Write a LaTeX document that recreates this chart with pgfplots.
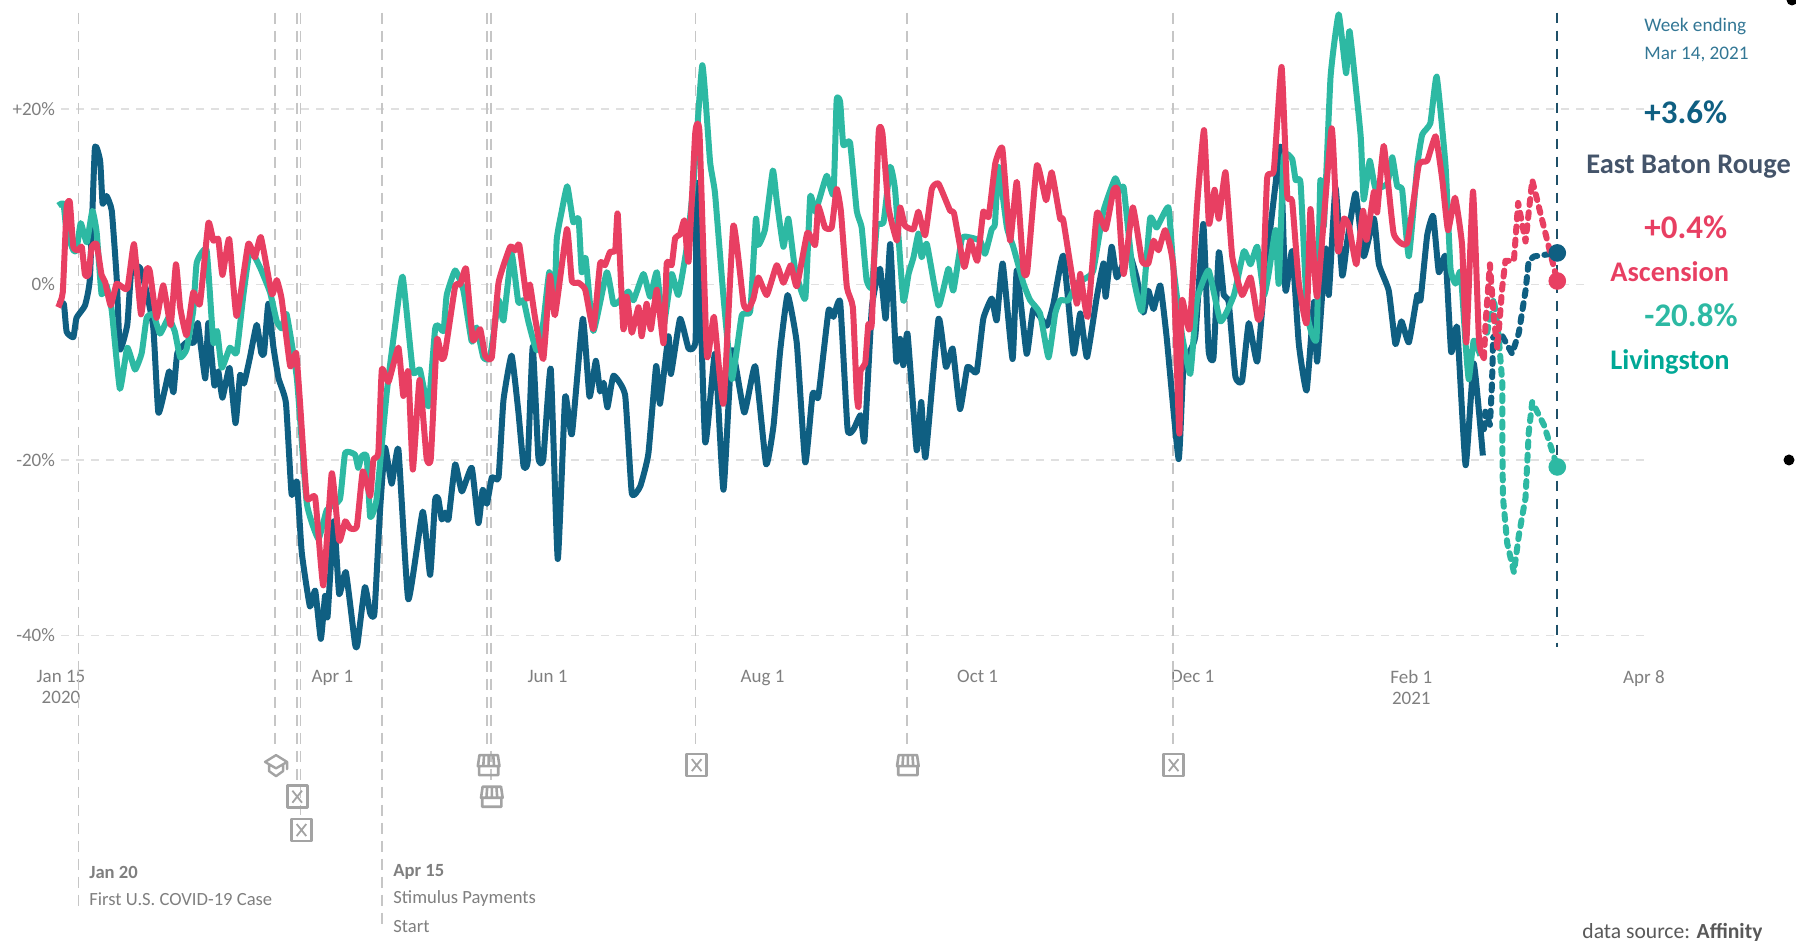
\documentclass[border=0pt]{standalone}
\usepackage{pgfplots}
\pgfplotsset{compat=1.18}
\usepackage{fontspec}
\setmainfont{Carlito}
\definecolor{navy}{HTML}{0F5F82}
\definecolor{teal2}{HTML}{2DB9A3}
\definecolor{red2}{HTML}{E83F62}
\definecolor{evgray}{HTML}{C6C6C6}
\definecolor{txtgray}{HTML}{7F7F7F}
\definecolor{icongray}{HTML}{A3A3A3}
\pgfdeclareplotmark{xbox}{%
  \pgfsetroundjoin\pgfsetlinewidth{1.3pt}%
  \pgfpathrectangle{\pgfpoint{-5pt}{-5.5pt}}{\pgfpoint{10pt}{11pt}}\pgfusepathqstroke
  \pgfsetlinewidth{.9pt}%
  \pgfpathmoveto{\pgfpoint{-2.4pt}{-3pt}}\pgfpathlineto{\pgfpoint{2.4pt}{3pt}}%
  \pgfpathmoveto{\pgfpoint{-2.4pt}{3pt}}\pgfpathlineto{\pgfpoint{2.4pt}{-3pt}}\pgfusepathqstroke}
\pgfdeclareplotmark{shop}{%
  \pgfsetroundjoin\pgfsetroundcap\pgfsetlinewidth{1.3pt}%
  \pgfpathmoveto{\pgfpoint{-4.8pt}{-0.5pt}}\pgfpathlineto{\pgfpoint{-4.8pt}{-5pt}}\pgfpathlineto{\pgfpoint{4.8pt}{-5pt}}\pgfpathlineto{\pgfpoint{4.8pt}{-0.5pt}}%
  \pgfpathmoveto{\pgfpoint{-5.4pt}{-0.5pt}}\pgfpathlineto{\pgfpoint{5.4pt}{-0.5pt}}\pgfpathlineto{\pgfpoint{4.6pt}{5pt}}\pgfpathlineto{\pgfpoint{-4.6pt}{5pt}}\pgfpathclose
  \pgfpathmoveto{\pgfpoint{-2.7pt}{-0.5pt}}\pgfpathlineto{\pgfpoint{-2.3pt}{5pt}}%
  \pgfpathmoveto{\pgfpoint{0pt}{-0.5pt}}\pgfpathlineto{\pgfpoint{0pt}{5pt}}%
  \pgfpathmoveto{\pgfpoint{2.7pt}{-0.5pt}}\pgfpathlineto{\pgfpoint{2.3pt}{5pt}}\pgfusepathqstroke}
\pgfdeclareplotmark{cap}{%
  \pgfsetroundjoin\pgfsetroundcap\pgfsetlinewidth{1.2pt}%
  \pgfpathmoveto{\pgfpoint{-5.5pt}{1.6pt}}\pgfpathlineto{\pgfpoint{0pt}{5pt}}\pgfpathlineto{\pgfpoint{5.5pt}{1.6pt}}\pgfpathlineto{\pgfpoint{0pt}{-1.6pt}}\pgfpathclose
  \pgfpathmoveto{\pgfpoint{-3.5pt}{0.4pt}}\pgfpathlineto{\pgfpoint{-3.5pt}{-3pt}}\pgfpathlineto{\pgfpoint{0pt}{-5.5pt}}\pgfpathlineto{\pgfpoint{3.5pt}{-3pt}}\pgfpathlineto{\pgfpoint{3.5pt}{0.4pt}}%
  \pgfpathmoveto{\pgfpoint{5.5pt}{1.6pt}}\pgfpathlineto{\pgfpoint{5.5pt}{-2pt}}\pgfusepathqstroke}
\begin{document}
\begin{tikzpicture}
\useasboundingbox (0,0) rectangle (898pt,470.5pt);
\begin{axis}[
  at={(30.5pt,147pt)},anchor=south west,
  scale only axis,width=791.5pt,height=317.5pt,
  xmin=0,xmax=449,ymin=-41.33,ymax=31.07,
  clip=false,
  axis line style={draw=none},
  tick style={draw=none},
  major tick length=0pt,
  xtick={0,77,138,199,260,321,383,449},
  xticklabels={Jan 15\\2020,Apr 1,Jun 1,Aug 1,Oct 1,Dec 1,Feb 1\\2021,Apr 8},
  x tick label style={align=center,font=\fontsize{9.5}{10.5}\selectfont,text=txtgray,anchor=north,yshift=-8pt},
  ytick={-40,-20,0,20},
  yticklabels={-40\%,-20\%,0\%,+20\%},
  y tick label style={font=\fontsize{9.5}{10.5}\selectfont,text=txtgray,anchor=east,xshift=0.5pt},
  ymajorgrids,
  grid style={draw=black!12,line width=.8pt,dash pattern=on 4pt off 3.5pt},
]
% event lines
\addplot[evgray,line width=.8pt,dash pattern=on 5.5pt off 3.5pt,forget plot] coordinates {(5,31)(5,-71)};
\addplot[evgray,line width=.8pt,dash pattern=on 5.5pt off 3.5pt,forget plot] coordinates {(91,31)(91,-73.6)};
\addplot[evgray,line width=.8pt,dash pattern=on 5.5pt off 3.5pt,forget plot] coordinates {(60.7,31)(60.7,-52.8)};
\addplot[evgray,line width=.8pt,dash pattern=on 5.5pt off 3.5pt,forget plot] coordinates {(66.9,31)(66.9,-57)};
\addplot[evgray,line width=.8pt,dash pattern=on 5.5pt off 3.5pt,forget plot] coordinates {(67.9,31)(67.9,-60.5)};
\addplot[evgray,line width=.8pt,dash pattern=on 5.5pt off 3.5pt,forget plot] coordinates {(120.9,31)(120.9,-52.8)};
\addplot[evgray,line width=.8pt,dash pattern=on 5.5pt off 3.5pt,forget plot] coordinates {(121.9,31)(121.9,-57)};
\addplot[evgray,line width=.8pt,dash pattern=on 5.5pt off 3.5pt,forget plot] coordinates {(180,31)(180,-52.8)};
\addplot[evgray,line width=.8pt,dash pattern=on 5.5pt off 3.5pt,forget plot] coordinates {(240,31)(240,-52.8)};
\addplot[evgray,line width=.8pt,dash pattern=on 5.5pt off 3.5pt,forget plot] coordinates {(315.4,31)(315.4,-52.8)};
% icons
\addplot[only marks,mark=cap,icongray,mark size=5pt] coordinates {(61,-54.8)};
\addplot[only marks,mark=xbox,icongray] coordinates {(67,-58.4)(68.2,-62.2)(180.3,-54.8)(315.6,-54.8)};
\addplot[only marks,mark=shop,icongray] coordinates {(121.3,-54.8)(122.2,-58.4)(240.2,-54.8)};
% week line
\addplot[color={rgb,255:red,31;green,80;blue,104},line width=1pt,dash pattern=on 5pt off 4pt] coordinates {(424.4,31)(424.4,-41.3)};
% East Baton Rouge
\addplot[navy,line width=3pt,line join=round,smooth,tension=0.25] coordinates {
(-0.8,-2.2)(0.8,-2.2)(1.6,-5.4)(3.5,-6.0)(4.4,-3.8)(6.8,-2.4)(8.2,0.7)(9.6,15.5)(11.1,14.1)(11.8,9.2)(12.9,10.1)(14.4,8.4)(15.8,0.7)(16.7,-7.4)(18.8,-4.6)(20.0,1.9)(22.4,1.9)(24.3,-0.9)(26.2,-5.0)(27.6,-14.6)(29.5,-11.9)(30.7,-9.9)(31.9,-12.3)(33.0,-7.8)(35.6,-6.6)(37.7,-6.6)(38.8,-4.4)(40.9,-10.7)(41.8,-4.4)(43.5,-11.5)(44.6,-9.9)(45.8,-12.9)(47.8,-9.5)(49.5,-15.8)(50.8,-10.3)(51.9,-11.3)(53.6,-8.3)(55.5,-4.6)(56.8,-7.8)(57.6,-7.8)(58.8,-2.2)(60.2,-7.0)(61.7,-10.7)(63.8,-13.5)(65.4,-23.9)(66.9,-22.5)(68.3,-30.6)(70.6,-36.7)(72.1,-34.9)(73.7,-40.4)(74.9,-35.5)(75.6,-37.9)(77.4,-27.0)(78.9,-35.3)(80.8,-32.8)(83.4,-41.0)(84.1,-41.0)(86.2,-34.5)(87.7,-37.5)(88.9,-37.5)(90.5,-25.7)(91.9,-18.6)(93.8,-22.7)(95.7,-18.8)(98.5,-35.9)(102.6,-25.9)(104.7,-33.1)(106.1,-24.6)(107.0,-24.4)(108.0,-26.8)(108.9,-26.0)(109.9,-26.8)(111.8,-20.5)(113.7,-23.6)(116.5,-20.9)(118.4,-27.2)(119.6,-23.4)(120.8,-25.0)(122.2,-22.0)(124.1,-22.0)(125.5,-13.2)(127.8,-8.1)(129.7,-14.4)(131.2,-20.7)(132.4,-20.1)(133.8,-7.1)(135.4,-19.7)(136.8,-19.9)(138.9,-9.6)(140.9,-31.3)(143.0,-12.8)(144.9,-17.1)(148.0,-3.9)(149.9,-12.8)(151.7,-8.7)(152.9,-12.2)(153.9,-11.2)(155.0,-14.0)(156.7,-10.4)(160.0,-12.6)(161.9,-23.8)(164.3,-23.0)(166.6,-19.3)(168.8,-9.3)(169.9,-13.6)(172.3,-5.9)(173.0,-10.2)(175.6,-3.9)(178.0,-7.3)(180.0,-6.3)(180.3,11.6)(182.7,-17.9)(185.5,-7.9)(187.9,-23.4)(190.3,-7.5)(193.8,-14.6)(196.9,-9.3)(200.0,-20.5)(202.1,-16.1)(204.0,-7.5)(206.1,-1.2)(208.7,-6.7)(211.1,-20.3)(213.2,-12.4)(214.8,-12.8)(217.7,-3.0)(219.1,-3.7)(221.0,-2.0)(223.1,-16.5)(224.8,-16.5)(226.8,-14.9)(227.9,-17.8)(230.0,-2.6)(232.3,1.8)(233.9,-3.9)(235.2,4.6)(236.9,-8.7)(238.0,-6.2)(238.9,-9.2)(240.1,-5.6)(242.7,-18.9)(244.0,-13.4)(245.2,-19.7)(248.9,-3.9)(251.0,-9.4)(252.9,-7.3)(255.0,-14.2)(257.1,-9.4)(259.7,-10.0)(261.6,-3.9)(264.0,-1.6)(265.4,-4.1)(267.1,2.4)(269.9,-8.5)(271.1,1.6)(273.9,-7.9)(275.8,-2.8)(279.6,-4.7)(281.5,-2.2)(284.3,3.3)(287.2,-7.9)(289.1,-3.3)(291.0,-8.3)(293.8,-1.4)(295.7,2.4)(296.3,-1.4)(298.0,4.3)(299.5,0.8)(302.8,3.7)(305.1,0.8)(307.0,-3.2)(308.4,-0.7)(309.9,-2.8)(311.8,-0.1)(313.6,-6.0)(317.0,-19.9)(318.4,-9.4)(321.7,-6.0)(324.0,6.9)(325.5,-7.5)(326.9,-8.3)(328.4,3.7)(329.8,-1.2)(331.2,-2.0)(333.1,-10.5)(335.0,-11.0)(336.9,-4.4)(339.3,-8.8)(341.6,1.4)(344.5,11.5)(345.9,15.6)(347.3,-0.7)(349.2,3.8)(351.1,-6.8)(353.3,-12.1)(355.4,-2.0)(356.3,-8.8)(358.7,4.1)(359.6,-1.2)(361.5,11.0)(363.4,1.0)(364.8,4.9)(367.2,10.4)(369.5,3.2)(372.4,7.5)(373.8,2.3)(376.6,-0.7)(378.5,-6.8)(380.2,-4.2)(382.3,-6.6)(384.7,-1.2)(385.6,-1.8)(387.5,5.6)(389.2,7.8)(390.8,1.4)(392.7,3.2)(394.3,-7.7)(396.0,-4.9)(398.4,-20.6)(400.7,-9.0)(403.3,-19.5)};
\addplot[navy,line width=3pt,line join=round,line cap=round,dash pattern=on 3pt off 3.6pt] coordinates {
(403.6,-16.5)(404.0,-14.5)(405.3,-16.0)(405.9,-11.2)(406.2,-6.0)(408.3,-5.5)(411.6,-7.9)(413.5,-5.5)(415.4,-0.7)(416.3,2.7)(417.8,3.2)(424.4,3.6)};
% Livingston
\addplot[teal2,line width=3pt,line join=round,smooth,tension=0.25] coordinates {
(-0.8,9.0)(0.7,9.2)(1.6,6.0)(3.5,3.9)(4.4,3.9)(5.6,7.0)(7.3,4.8)(8.9,8.4)(10.1,6.0)(11.5,-1.1)(12.9,-0.1)(14.4,-3.0)(16.7,-11.9)(18.8,-7.2)(21.0,-9.7)(22.9,-7.8)(24.3,-3.8)(26.2,-3.4)(28.1,-5.6)(30.5,-3.8)(32.3,-5.4)(33.8,-8.3)(35.6,-7.4)(37.5,-3.0)(38.5,2.5)(41.3,3.9)(43.2,-6.6)(44.3,-5.3)(45.6,-9.5)(47.9,-7.2)(49.8,-7.8)(51.7,-1.3)(53.6,3.9)(56.5,1.9)(59.3,-0.9)(61.2,-4.2)(62.6,-5.0)(64.0,-3.4)(66.9,-10.7)(69.7,-24.9)(73.0,-29.0)(75.4,-25.7)(79.1,-24.5)(80.6,-19.2)(83.4,-19.4)(84.3,-20.9)(85.3,-19.6)(86.7,-19.6)(87.7,-26.5)(89.5,-24.5)(92.4,-12.3)(94.8,-4.6)(96.9,0.9)(99.8,-9.9)(101.8,-9.7)(104.2,-13.9)(106.1,-5.1)(107.0,-4.7)(108.5,-5.3)(109.4,-1.2)(111.8,1.6)(114.1,-0.6)(116.5,-6.5)(117.9,-4.9)(119.8,-8.3)(121.7,-8.3)(124.1,-1.8)(125.5,-4.1)(127.8,3.5)(129.7,-2.0)(131.2,-1.8)(132.6,-4.3)(134.9,-7.5)(136.8,-4.3)(138.5,1.4)(139.9,-3.0)(140.6,5.1)(142.0,8.3)(143.6,11.2)(145.3,7.1)(146.8,7.5)(147.7,1.4)(148.8,3.0)(151.0,-5.3)(154.8,1.4)(156.7,-2.2)(158.6,-1.8)(160.9,-0.8)(162.4,-1.8)(165.2,1.2)(167.1,-1.4)(169.0,1.4)(170.9,-4.7)(173.2,1.2)(175.1,-1.2)(177.5,4.3)(179.4,11.6)(181.9,25.0)(184.1,14.0)(185.5,10.4)(187.9,-1.4)(190.3,-10.8)(193.1,-3.5)(195.5,-3.0)(197.1,7.5)(197.8,4.5)(199.7,6.3)(201.9,13.0)(203.0,9.6)(204.9,4.3)(206.3,7.5)(208.2,1.8)(211.1,-1.6)(212.5,10.0)(213.9,8.3)(215.3,10.0)(217.2,12.4)(219.1,10.3)(220.0,21.0)(221.0,20.8)(221.9,15.9)(223.8,16.2)(225.7,8.4)(227.1,6.5)(228.5,0.5)(230.0,-0.3)(231.4,6.7)(233.3,7.1)(235.2,13.4)(236.6,10.7)(238.9,-1.8)(240.4,1.2)(241.8,3.1)(243.2,5.8)(244.1,3.1)(245.6,4.6)(248.9,-2.4)(251.7,1.8)(253.1,-0.7)(255.5,5.2)(257.4,5.4)(260.7,5.0)(262.1,3.5)(264.0,6.3)(264.9,6.9)(265.9,13.4)(268.3,6.5)(270.1,4.3)(273.0,0.1)(274.9,-1.8)(277.7,-3.3)(280.1,-8.3)(282.0,-3.3)(283.4,-1.8)(285.7,-1.8)(288.1,0.1)(291.0,0.8)(292.8,1.6)(295.7,8.4)(299.0,12.1)(300.4,10.7)(301.4,11.1)(302.8,5.8)(304.2,0.8)(306.6,-3.0)(308.9,7.5)(310.8,6.5)(314.1,8.8)(315.5,2.0)(317.9,-5.6)(320.3,-10.2)(322.2,-1.8)(325.5,1.6)(328.9,-4.2)(332.7,-1.2)(335.5,3.8)(337.4,2.3)(339.3,4.3)(341.2,-1.2)(342.6,1.4)(344.5,6.2)(345.4,0.1)(346.8,14.5)(349.2,14.3)(350.2,11.9)(351.6,11.5)(353.5,-3.4)(356.1,-6.2)(357.2,11.9)(358.2,6.7)(360.1,23.7)(362.4,30.8)(364.5,24.1)(365.5,28.9)(368.6,17.1)(369.5,9.7)(371.2,14.1)(372.8,11.0)(376.2,11.5)(377.6,14.5)(379.0,11.2)(380.4,10.8)(382.3,3.2)(384.7,13.6)(386.1,17.1)(388.4,18.4)(390.2,23.7)(392.7,13.6)(394.1,1.9)(395.5,0.1)(397.0,1.4)(398.4,-6.8)(399.3,-10.8)(400.7,-6.4)(402.6,-8.1)};
\addplot[teal2,line width=3pt,line join=round,line cap=round,dash pattern=on 3pt off 3.6pt] coordinates {
(404.5,-5.5)(406.4,-1.6)(407.8,-6.0)(408.8,-11.2)(408.8,-17.7)(409.0,-24.3)(410.2,-29.5)(412.1,-32.8)(413.5,-28.6)(415.4,-24.3)(416.3,-16.9)(417.3,-13.4)(420.6,-16.0)(424.4,-20.8)};
% Ascension
\addplot[red2,line width=3pt,line join=round,smooth,tension=0.25] coordinates {
(-0.8,-2.6)(0.5,-0.9)(1.6,8.8)(2.5,9.4)(3.5,4.3)(4.9,3.9)(5.9,4.3)(6.8,1.1)(7.8,1.1)(8.7,4.3)(10.1,4.6)(11.5,1.1)(12.5,0.3)(14.1,-2.4)(15.8,0.1)(18.8,-0.5)(20.7,4.6)(22.7,-3.4)(24.3,1.7)(25.2,1.5)(27.1,-3.8)(29.0,-0.1)(31.1,-4.6)(32.6,2.3)(33.8,-2.6)(35.6,-5.8)(37.5,-0.9)(39.4,-2.2)(41.8,7.0)(43.2,5.0)(44.6,5.2)(45.8,1.1)(47.7,5.2)(49.8,-3.6)(53.1,4.6)(55.0,3.1)(56.7,5.4)(59.8,-1.1)(61.2,0.5)(62.6,-1.7)(65.0,-9.3)(66.7,-7.8)(67.8,-13.5)(69.7,-24.3)(72.1,-24.3)(74.4,-34.3)(76.8,-21.5)(78.9,-29.2)(80.6,-27.0)(82.0,-27.8)(83.9,-27.6)(85.6,-21.3)(87.7,-24.1)(88.6,-20.0)(90.0,-19.2)(91.0,-9.7)(92.9,-11.1)(95.7,-7.2)(97.1,-12.7)(98.5,-9.9)(99.8,-21.1)(101.7,-10.9)(103.7,-19.8)(104.9,-19.8)(106.6,-6.3)(108.0,-8.5)(108.9,-7.9)(111.8,-0.2)(113.2,0)(114.9,1.8)(116.8,-6.3)(118.9,-5.1)(120.3,-8.1)(122.2,-8.3)(124.1,0.2)(127.4,4.3)(128.8,3.9)(130.0,4.5)(132.1,-1.6)(133.0,0)(134.5,-3.9)(136.8,-8.5)(138.7,1.0)(140.1,-3.5)(143.5,6.3)(144.9,0.4)(146.8,0.2)(148.7,-0.6)(151.0,-5.1)(152.9,2.4)(154.3,2.2)(155.7,3.7)(157.2,3.9)(157.9,8.1)(159.5,-5.1)(160.5,-1.4)(161.9,-5.5)(163.8,-2.6)(164.7,-5.9)(166.1,-2.2)(167.3,-5.1)(169.0,-0.6)(170.9,-6.7)(171.8,2.4)(173.2,2.2)(174.2,5.3)(175.6,5.7)(176.8,7.3)(178.0,2.6)(179.9,17.3)(181.1,17.3)(183.2,-8.1)(185.2,-3.7)(187.9,-13.6)(190.7,6.7)(193.6,-2.2)(195.0,-2.8)(196.4,-1.6)(197.8,0.8)(200.2,-1.2)(203.0,2.2)(204.9,0.2)(207.0,2.2)(208.7,-0.2)(211.7,5.9)(213.9,4.5)(214.8,8.9)(216.7,6.5)(218.6,6.5)(220.0,10.9)(221.2,8.4)(222.9,-0.3)(224.6,-2.6)(225.7,-12.5)(226.2,-14.0)(226.8,-9.8)(228.1,-9.0)(229.0,-4.5)(230.0,-4.3)(231.9,17.2)(233.0,17.2)(234.7,8.8)(237.1,5.0)(238.0,8.8)(239.4,6.7)(241.8,6.3)(243.2,8.3)(245.1,5.6)(247.0,10.9)(248.9,11.5)(252.2,8.4)(253.3,8.1)(256.2,2.0)(257.9,5.0)(259.9,2.7)(261.6,8.3)(263.1,7.7)(265.0,13.8)(267.0,15.5)(269.2,5.0)(271.1,11.7)(273.0,1.6)(274.1,1.6)(276.8,13.6)(279.4,9.6)(281.0,12.8)(283.4,7.5)(284.3,7.3)(288.1,-2.2)(289.1,1.2)(291.2,-3.7)(293.8,8.1)(296.3,6.3)(298.5,10.7)(299.7,10.7)(301.4,1.2)(304.0,8.8)(306.6,2.7)(308.4,2.4)(309.9,5.0)(311.3,3.9)(313.2,6.2)(315.5,2.0)(317.2,-17.0)(317.9,-1.8)(320.1,-5.1)(322.2,8.8)(324.2,17.6)(325.6,6.9)(327.2,10.8)(328.4,7.5)(330.3,12.8)(332.2,3.2)(335.0,-1.2)(337.4,0.8)(339.5,-4.0)(340.7,-2.5)(342.1,12.1)(344.0,13.0)(346.2,24.8)(347.8,10.2)(349.2,9.5)(351.1,0.1)(353.3,-4.4)(354.4,8.6)(356.3,-1.4)(360.4,17.8)(362.2,3.8)(363.9,7.5)(365.3,6.7)(367.4,2.3)(369.3,8.4)(370.3,5.1)(372.4,10.6)(373.3,8.2)(375.2,15.8)(378.0,5.8)(381.8,4.7)(385.1,13.6)(387.5,14.1)(389.9,16.9)(391.8,11.9)(393.4,6.2)(395.4,9.9)(397.4,4.5)(398.6,-6.6)(400.5,10.6)(402.2,-6.4)(403.6,-8.4)};
\addplot[red2,line width=3pt,line join=round,line cap=round,dash pattern=on 3pt off 3.6pt] coordinates {
(403.6,-8.4)(404.1,-4.2)(405.3,2.3)(406.4,-3.8)(407.4,-7.3)(408.8,-0.3)(409.7,2.7)(412.1,2.7)(413.3,9.3)(415.4,4.9)(417.3,11.9)(419.7,8.0)(424.4,0.4)};
% end dots
\addplot[only marks,mark=*,mark size=4.2pt,navy] coordinates {(424.4,3.6)};
\addplot[only marks,mark=*,mark size=4.2pt,teal2] coordinates {(424.4,-20.8)};
\addplot[only marks,mark=*,mark size=4.2pt,red2] coordinates {(424.4,0.4)};
\end{axis}
\begin{scope}[x=0.5pt,y=-0.5pt,yshift=470.5pt]
\fill[white] (1590,278) rectangle (1650,292);
\tikzset{t/.style={anchor=west,inner sep=0pt,font=\fontsize{#1}{#1}\selectfont}}
\node[t=9,text=txtgray,font=\fontsize{9.3}{9}\selectfont\bfseries] at (89,872) {Jan 20};
\node[t=9,text=txtgray,font=\fontsize{9.3}{9}\selectfont] at (89,899) {First U.S. COVID-19 Case};
\node[t=9,text=txtgray,font=\fontsize{9.3}{9}\selectfont\bfseries] at (393,872) {Apr 15};
\node[t=9,text=txtgray,font=\fontsize{9.3}{9}\selectfont] at (393,899) {Stimulus Payments};
\node[t=9,text=txtgray,font=\fontsize{9.3}{9}\selectfont] at (393,927) {Start};
\node[t=10,text=navy!85!white,font=\fontsize{9.6}{10}\selectfont] at (1644,27) {Week ending};
\node[t=10,text=navy!85!white,font=\fontsize{9.6}{10}\selectfont] at (1644,55) {Mar 14, 2021};
\node[t=16,text=navy,font=\fontsize{16.5}{16}\selectfont\bfseries] at (1644,112) {+3.6\%};
\node[t=13,text={rgb,255:red,68;green,84;blue,106},font=\fontsize{14.2}{14}\selectfont\bfseries] at (1586,167) {East Baton Rouge};
\node[t=16,text=red2,font=\fontsize{16.5}{16}\selectfont\bfseries] at (1644,227) {+0.4\%};
\node[t=13,text=red2,font=\fontsize{14.2}{14}\selectfont\bfseries] at (1610,272) {Ascension};
\node[t=16,text=teal2,font=\fontsize{16.5}{16}\selectfont\bfseries] at (1644,315) {-20.8\%};
\node[t=13,text={rgb,255:red,0;green,168;blue,150},font=\fontsize{14.2}{14}\selectfont\bfseries] at (1610,362) {Livingston};
\begin{scope}
\clip (1570,905) rectangle (1761,941);
\node[t=10,text=black!65,font=\fontsize{10.8}{11}\selectfont] at (1582,933) {data source: \textbf{Affinity}};
\end{scope}
\fill[black] (1789,460) circle (5.5);
\fill[black] (1792,0) circle (5.5);
\end{scope}
\end{tikzpicture}
\end{document}
